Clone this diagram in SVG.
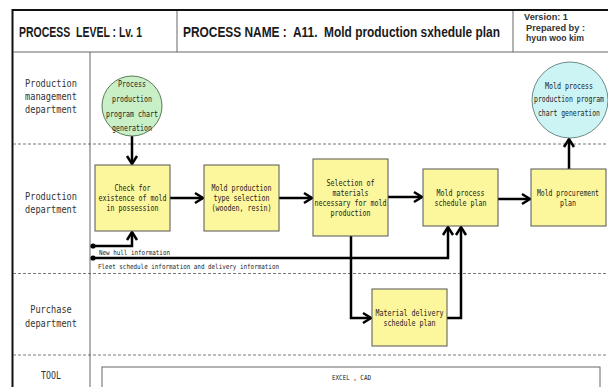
<svg xmlns="http://www.w3.org/2000/svg" width="608" height="387" viewBox="0 0 608 387">
  <style>
    .frame { stroke: #111; stroke-width: 2; fill: none; }
    .rule { stroke: #666; stroke-width: 1; fill: none; }
    .lane { stroke: #555; stroke-width: 0.8; stroke-dasharray: 3 2; fill: none; }
    .box { fill: #fcf69c; stroke: #555; stroke-width: 1; }
    .start { fill: #c9efc6; stroke: #5a7a5a; stroke-width: 1; }
    .end { fill: #cdf4f4; stroke: #6a8a8a; stroke-width: 1; }
    .flow { stroke: #000; stroke-width: 2.5; fill: none; stroke-linejoin: miter; }
    .dot { fill: #000; }
    .hdr { font-family: "Liberation Sans", Arial, sans-serif; font-weight: bold; fill: #1a1a1a; }
    .ver { font-family: "Liberation Sans", Arial, sans-serif; font-weight: bold; fill: #333; font-size: 9px; }
    .mono { font-family: "DejaVu Sans Mono", "Liberation Mono", monospace; fill: #222; }
    .node { font-size: 8.5px; text-anchor: middle; }
    .lanelbl { font-size: 11px; text-anchor: middle; fill: #333; }
    .edge { font-size: 7px; }
  </style>
  <defs>
    <marker id="arrow" markerUnits="userSpaceOnUse" markerWidth="14" markerHeight="14" viewBox="-10 -7 12 14" refX="0" refY="0" orient="auto">
      <path d="M-8,-5 L0,0 L-8,5" fill="none" stroke="#000" stroke-width="2.5" stroke-linejoin="miter"/>
    </marker>
  </defs>

  <rect width="608" height="387" fill="#fff"/>

  <!-- frame, header rules and lane separators -->
  <g id="frame">
    <line class="frame" x1="12" y1="10" x2="608" y2="10"/>
    <line class="frame" x1="12.5" y1="9" x2="12.5" y2="387"/>
    <line class="rule" x1="13" y1="52" x2="608" y2="52"/>
    <line class="rule" x1="177" y1="11" x2="177" y2="52"/>
    <line class="rule" x1="513" y1="11" x2="513" y2="52"/>
    <line class="rule" x1="90" y1="52" x2="90" y2="387"/>
    <line class="lane" x1="13" y1="144" x2="608" y2="144"/>
    <line class="lane" x1="13" y1="273.5" x2="608" y2="273.5"/>
    <line class="lane" x1="13" y1="355" x2="608" y2="355"/>
  </g>

  <g id="header">
    <text class="hdr" x="19" y="37.3" font-size="14.5" textLength="123" lengthAdjust="spacingAndGlyphs" xml:space="preserve">PROCESS  LEVEL : Lv. 1</text>
    <text class="hdr" x="183" y="37.3" font-size="14.5" textLength="317" lengthAdjust="spacingAndGlyphs" xml:space="preserve">PROCESS NAME :  A11.  Mold production sxhedule plan</text>
    <text class="ver" x="524" y="20" textLength="44" lengthAdjust="spacingAndGlyphs">Version: 1</text>
    <text class="ver" x="526" y="30.5" textLength="59" lengthAdjust="spacingAndGlyphs">Prepared by :</text>
    <text class="ver" x="526" y="41" textLength="58" lengthAdjust="spacingAndGlyphs">hyun woo kim</text>
  </g>

  <!-- lane titles -->
  <g id="lane-labels" class="mono lanelbl">
    <text x="51" y="87" textLength="52" lengthAdjust="spacingAndGlyphs">Production</text>
    <text x="51" y="100" textLength="52" lengthAdjust="spacingAndGlyphs">management</text>
    <text x="51" y="113" textLength="52" lengthAdjust="spacingAndGlyphs">department</text>
    <text x="51" y="200" textLength="52" lengthAdjust="spacingAndGlyphs">Production</text>
    <text x="51" y="213" textLength="52" lengthAdjust="spacingAndGlyphs">department</text>
    <text x="51" y="313" textLength="41.6" lengthAdjust="spacingAndGlyphs">Purchase</text>
    <text x="51" y="327" textLength="52" lengthAdjust="spacingAndGlyphs">department</text>
    <text x="51" y="379" textLength="20" lengthAdjust="spacingAndGlyphs">TOOL</text>
  </g>

  <!-- connectors -->
  <g id="connectors">
    <path class="flow" d="M132,136 L132,164" marker-end="url(#arrow)"/>
    <path class="flow" d="M170,198 L203,198" marker-end="url(#arrow)"/>
    <path class="flow" d="M279,198 L312,198" marker-end="url(#arrow)"/>
    <path class="flow" d="M388,197 L422,197" marker-end="url(#arrow)"/>
    <path class="flow" d="M498,199 L530,199" marker-end="url(#arrow)"/>
    <path class="flow" d="M569,169 L569,139" marker-end="url(#arrow)"/>
    <path class="flow" d="M93,246 L132,246 L132,232" marker-end="url(#arrow)"/>
    <path class="flow" d="M93,258 L448,258 L448,227" marker-end="url(#arrow)"/>
    <path class="flow" d="M351,236 L351,318 L371,318" marker-end="url(#arrow)"/>
    <path class="flow" d="M447,318 L461,318 L461,227" marker-end="url(#arrow)"/>
    <circle class="dot" cx="93" cy="246" r="2.6"/>
    <circle class="dot" cx="93" cy="258" r="2.6"/>
    <text class="mono edge" x="99" y="254.5" textLength="71" lengthAdjust="spacingAndGlyphs">New hull information</text>
    <text class="mono edge" x="98" y="268.5" textLength="181" lengthAdjust="spacingAndGlyphs">Fleet schedule information and delivery information</text>
  </g>

  <!-- nodes -->
  <g id="program-chart-generation">
    <circle class="start" cx="132" cy="106" r="30"/>
    <g class="mono node">
      <text x="132" y="87" textLength="28" lengthAdjust="spacingAndGlyphs">Process</text>
      <text x="132" y="102" textLength="40" lengthAdjust="spacingAndGlyphs">production</text>
      <text x="132" y="117" textLength="52" lengthAdjust="spacingAndGlyphs">program chart</text>
      <text x="132" y="131" textLength="40" lengthAdjust="spacingAndGlyphs">generation</text>
    </g>
  </g>

  <g id="check-mold">
    <rect class="box" x="95" y="165" width="75" height="66"/>
    <g class="mono node">
      <text x="132.5" y="191" textLength="36" lengthAdjust="spacingAndGlyphs">Check for</text>
      <text x="132.5" y="201" textLength="68" lengthAdjust="spacingAndGlyphs">existence of mold</text>
      <text x="132.5" y="211" textLength="52" lengthAdjust="spacingAndGlyphs">in possession</text>
    </g>
  </g>

  <g id="type-selection">
    <rect class="box" x="204" y="165" width="75" height="66"/>
    <g class="mono node">
      <text x="241.5" y="191" textLength="60" lengthAdjust="spacingAndGlyphs">Mold production</text>
      <text x="241.5" y="201" textLength="56" lengthAdjust="spacingAndGlyphs">type selection</text>
      <text x="241.5" y="211" textLength="60" lengthAdjust="spacingAndGlyphs">(wooden, resin)</text>
    </g>
  </g>

  <g id="material-selection">
    <rect class="box" x="313" y="159" width="75" height="77"/>
    <g class="mono node">
      <text x="350.5" y="186" textLength="48" lengthAdjust="spacingAndGlyphs">Selection of</text>
      <text x="350.5" y="196" textLength="36" lengthAdjust="spacingAndGlyphs">materials</text>
      <text x="350.5" y="206" textLength="72" lengthAdjust="spacingAndGlyphs">necessary for mold</text>
      <text x="350.5" y="216" textLength="40" lengthAdjust="spacingAndGlyphs">production</text>
    </g>
  </g>

  <g id="process-schedule">
    <rect class="box" x="423" y="169" width="75" height="57"/>
    <g class="mono node">
      <text x="460.5" y="196" textLength="48" lengthAdjust="spacingAndGlyphs">Mold process</text>
      <text x="460.5" y="206" textLength="52" lengthAdjust="spacingAndGlyphs">schedule plan</text>
    </g>
  </g>

  <g id="procurement-plan">
    <rect class="box" x="531" y="169" width="75" height="57"/>
    <g class="mono node">
      <text x="568" y="196" textLength="62" lengthAdjust="spacingAndGlyphs">Mold procurement</text>
      <text x="568" y="206" textLength="16" lengthAdjust="spacingAndGlyphs">plan</text>
    </g>
  </g>

  <g id="process-program-chart">
    <circle class="end" cx="570" cy="100" r="38"/>
    <g class="mono node">
      <text x="569" y="89" textLength="48" lengthAdjust="spacingAndGlyphs">Mold process</text>
      <text x="569" y="102" textLength="70" lengthAdjust="spacingAndGlyphs">production program</text>
      <text x="569" y="116" textLength="62" lengthAdjust="spacingAndGlyphs">chart generation</text>
    </g>
  </g>

  <g id="delivery-schedule">
    <rect class="box" x="372" y="289" width="75" height="57"/>
    <g class="mono node">
      <text x="409.5" y="316" textLength="68" lengthAdjust="spacingAndGlyphs">Material delivery</text>
      <text x="409.5" y="325.5" textLength="52" lengthAdjust="spacingAndGlyphs">schedule plan</text>
    </g>
  </g>

  <g id="tool">
    <rect x="102" y="367" width="498" height="30" fill="#fff" stroke="#666" stroke-width="1"/>
    <text class="mono edge" x="351.5" y="380" text-anchor="middle" textLength="39" lengthAdjust="spacingAndGlyphs">EXCEL , CAD</text>
  </g>
</svg>
